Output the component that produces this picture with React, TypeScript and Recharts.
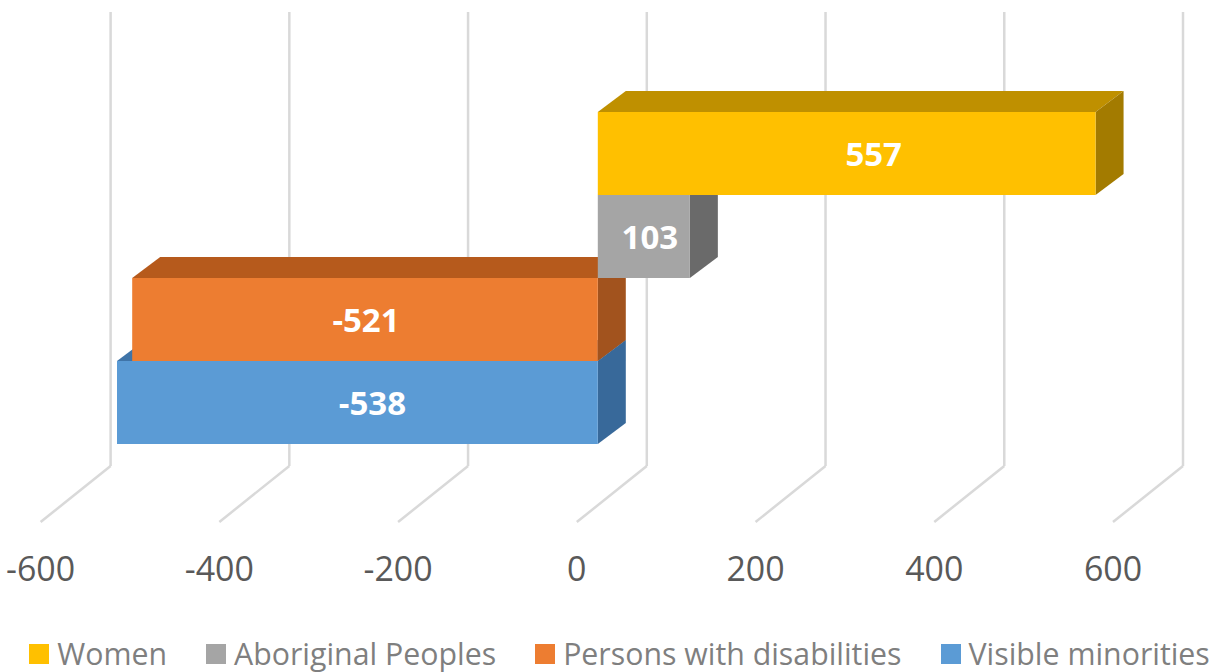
import React from "react";
import { BarChart, Bar, XAxis, YAxis, CartesianGrid, Legend, LabelList } from "recharts";

// Net change by designated group
const categories = ["Women", "Aboriginal Peoples", "Persons with disabilities", "Visible minorities"];
const changes = [557, 103, -521, -538];
const axisTicks = [-600, -400, -200, 0, 200, 400, 600];

const rows = categories.map((name, i) => ({ name, [name]: changes[i] }));

// Face colours of each extruded bar, and the sideways nudge of its value label
const looks: Record<string, { front: string; top: string; side: string; nudge: number }> = {
  Women: { front: "#FFC000", top: "#BF9000", side: "#A37B00", nudge: 27 },
  "Aboriginal Peoples": { front: "#A5A5A5", top: "#7C7C7C", side: "#6A6A6A", nudge: 6 },
  "Persons with disabilities": { front: "#ED7D31", top: "#B65A1C", side: "#A2531E", nudge: 1 },
  "Visible minorities": { front: "#5B9BD5", top: "#3F74A8", side: "#38699A", nudge: 15 },
};

// Extrusion of the bars into the chart's depth
const DEPTH_X = 28;
const DEPTH_Y = 21;

const GRID_COLOR = "#D9D9D9";
const TEXT_COLOR = "#595959";
const FONT = "'Open Sans', sans-serif";

function Box3D(props: any) {
  const { x, y, width, height, look } = props;
  if (!width) return null;
  const left = Math.min(x, x + width);
  const right = Math.max(x, x + width);
  const bottom = y + height;
  const dx = DEPTH_X;
  const dy = DEPTH_Y;
  return (
    <g>
      <polygon
        points={`${left},${y} ${left + dx},${y - dy} ${right + dx},${y - dy} ${right},${y}`}
        fill={look.top}
      />
      <polygon
        points={`${right},${y} ${right + dx},${y - dy} ${right + dx},${bottom - dy} ${right},${bottom}`}
        fill={look.side}
      />
      <rect x={left} y={y} width={right - left} height={height} fill={look.front} />
    </g>
  );
}

// Wall line rising from the floor, with its slanted run across the floor
function WallLine(props: any) {
  const { x1, y1, y2 } = props;
  return (
    <g fill="none" strokeLinejoin="round">
      <polyline
        points={`${x1 + 49},${y1 - 100} ${x1 + 49},${y2 + 22}`}
        stroke={GRID_COLOR}
        strokeWidth={2.5}
      />
      <polyline
        points={`${x1 + 49},${y2 + 22} ${x1 - 21},${y2 + 78}`}
        stroke={GRID_COLOR}
        strokeWidth={2.5}
      />
    </g>
  );
}

// Tick numbers sit under the front edge of the floor
function AxisTick(props: any) {
  const { x, y, payload } = props;
  return (
    <text
      transform={`translate(${x - 21},${y + 116}) scale(0.97,1)`}
      dy="0.36em"
      textAnchor="middle"
      fontFamily={FONT}
      fontSize={35}
      fill={TEXT_COLOR}
    >
      {payload.value}
    </text>
  );
}

function ValueLabel(props: any) {
  const { x, y, width, height, value, nudge } = props;
  if (value === undefined || value === null) return null;
  return (
    <text
      x={x + width / 2 + nudge}
      y={y + height / 2 + 1}
      dy="0.36em"
      textAnchor="middle"
      fontFamily={FONT}
      fontWeight={700}
      fontSize={33}
      fill="#FFFFFF"
    >
      {value}
    </text>
  );
}

function LegendRow(props: any) {
  const items = [...(props.payload ?? [])].sort(
    (a: any, b: any) => categories.indexOf(a.value) - categories.indexOf(b.value)
  );
  return (
    <div
      style={{
        display: "flex",
        justifyContent: "center",
        alignItems: "center",
        gap: 39,
        paddingLeft: 20,
        fontFamily: FONT,
        fontSize: 30.3,
        lineHeight: "40px",
        color: "#7F7F7F",
      }}
    >
      {items.map((item: any) => (
        <div key={item.value} style={{ display: "flex", alignItems: "center", gap: 8 }}>
          <span style={{ width: 20, height: 20, background: looks[item.value].front, display: "block" }} />
          <span>{item.value}</span>
        </div>
      ))}
    </div>
  );
}

export default function App() {
  // Painted from the lowest bar upward so each front face covers the top of the bar under it
  const paintOrder = [...categories].reverse();
  return (
    <div style={{ position: "absolute", left: 0, top: 0 }}>
      <BarChart
        width={1219}
        height={672}
        data={rows}
        layout="vertical"
        barCategoryGap={0}
        margin={{ top: 112, right: 85, bottom: 188, left: 61.6 }}
      >
        <CartesianGrid horizontal={false} vertical={(p: any) => <WallLine key={p.index ?? p.x1} {...p} />} />
        <XAxis
          type="number"
          domain={[-600, 600]}
          ticks={axisTicks}
          height={40}
          axisLine={false}
          tickLine={false}
          tick={<AxisTick />}
          interval={0}
        />
        <YAxis type="category" dataKey="name" hide />
        <Legend
          layout="horizontal"
          verticalAlign="middle"
          align="center"
          wrapperStyle={{ top: 634, left: 0, width: 1219 }}
          content={<LegendRow />}
        />
        {paintOrder.map((name) => (
          <Bar
            key={name}
            dataKey={name}
            stackId="groups"
            isAnimationActive={false}
            fill={looks[name].front}
            shape={<Box3D look={looks[name]} />}
          >
            <LabelList dataKey={name} content={<ValueLabel nudge={looks[name].nudge} />} />
          </Bar>
        ))}
      </BarChart>
    </div>
  );
}
